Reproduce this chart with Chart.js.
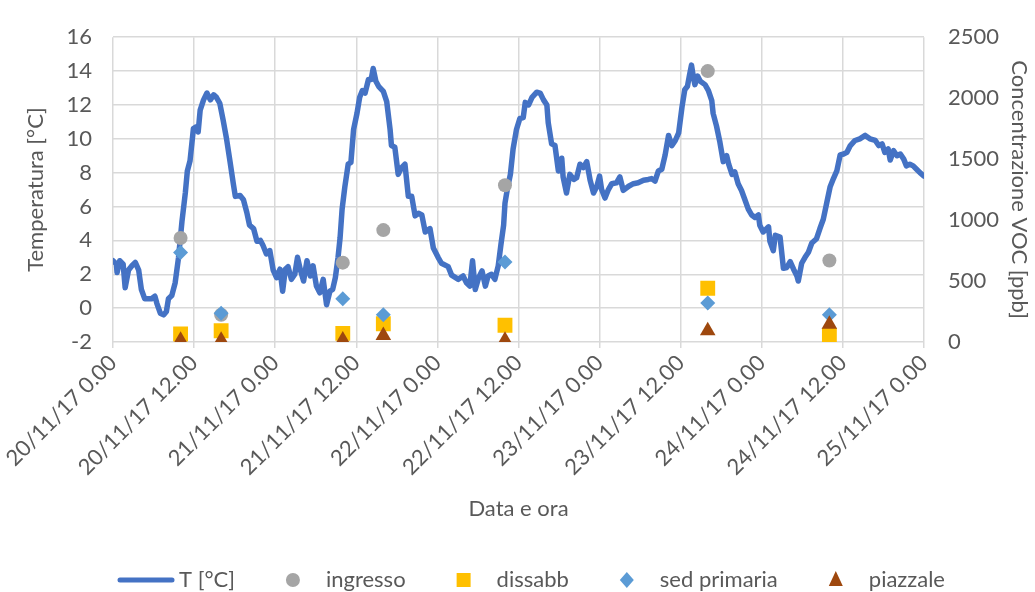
<!DOCTYPE html>
<html>
<head>
<meta charset="utf-8">
<script src="https://cdn.jsdelivr.net/npm/chart.js@4.4.1/dist/chart.umd.min.js"></script>
<style>
  html, body { margin: 0; padding: 0; background: #fff; }
  #wrap { width: 1035px; height: 592px; }
</style>
</head>
<body>
<div id="wrap"><canvas id="chart" width="1035" height="592"></canvas></div>
<script>
// x axis: hours from 20/11/17 0.00
const xTickLabels = ['20/11/17 0.00', '20/11/17 12.00', '21/11/17 0.00', '21/11/17 12.00',
  '22/11/17 0.00', '22/11/17 12.00', '23/11/17 0.00', '23/11/17 12.00',
  '24/11/17 0.00', '24/11/17 12.00', '25/11/17 0.00'];

// temperature trace
const tHours = [0, 0.5, 0.6, 1.0, 1.5, 1.8, 2.3, 2.8, 3.3, 3.8, 4.2, 4.7, 5.7, 6.2, 6.5, 7.0, 7.5, 7.9, 8.2, 8.7,
  9.2, 9.7, 10.2, 10.7, 11.0, 11.4, 11.9, 12.3, 12.6, 12.9, 13.4, 13.9, 14.4, 14.9, 15.3, 15.8, 16.3, 16.8, 17.3, 17.8,
  18.1, 18.8, 19.3, 19.8, 20.2, 20.8, 21.3, 21.8, 22.2, 22.7, 23.2, 23.7, 24.2, 24.7, 25.1, 25.5, 25.9, 26.4, 26.9, 27.3,
  27.7, 28.2, 28.7, 29.2, 29.6, 30.1, 30.6, 31.1, 31.6, 32.1, 32.5, 32.9, 33.3, 33.6, 33.9, 34.3, 34.8, 35.2, 35.6, 36.1,
  36.5, 36.9, 37.3, 37.8, 38.2, 38.5, 38.9, 39.3, 40.0, 40.5, 41.0, 41.2, 41.7, 42.2, 42.7, 43.2, 43.7, 44.2, 44.7, 45.2,
  45.7, 46.2, 46.9, 47.4, 48.1, 48.6, 49.6, 50.1, 51.1, 51.8, 52.3, 52.8, 53.2, 53.6, 54.1, 54.6, 55.1, 55.5, 56.0, 56.5,
  57.0, 57.4, 57.8, 58.0, 58.4, 58.8, 59.2, 59.7, 60.2, 60.7, 61.0, 61.5, 62.0, 62.7, 63.2, 63.7, 64.2, 64.4, 64.9, 65.4,
  65.9, 66.4, 66.6, 67.1, 67.6, 68.2, 68.6, 69.1, 69.6, 70.1, 70.6, 71.1, 71.6, 72.0, 72.3, 72.8, 73.3, 73.8, 74.5, 75.0,
  75.5, 76.3, 77.0, 77.7, 78.5, 79.2, 79.7, 80.2, 80.7, 81.2, 81.7, 82.2, 82.7, 83.2, 83.7, 84.2, 84.6, 85.0, 85.3, 85.6,
  85.9, 86.1, 86.5, 86.9, 87.6, 88.1, 88.6, 88.8, 89.3, 89.8, 90.3, 90.8, 91.1, 91.6, 92.0, 92.5, 93.0, 93.5, 94.0, 94.5,
  95.0, 95.5, 95.7, 96.2, 97.0, 97.2, 97.7, 98.0, 98.7, 99.2, 99.7, 100.2, 100.7, 101.2, 101.4, 101.9, 102.4, 102.9, 103.4, 104.1,
  104.6, 105.1, 105.6, 106.1, 106.6, 107.1, 107.6, 108.1, 108.6, 109.1, 109.8, 110.5, 111.3, 112.0, 112.8, 113.3, 113.8, 114.2, 114.7, 115.0,
  115.5, 116.0, 116.5, 117.0, 117.4, 117.9, 118.4, 118.9, 119.4, 120.0];
const tempC = [2.8, 2.6, 2.1, 2.8, 2.6, 1.2, 2.25, 2.5, 2.7, 2.25, 1.1, 0.55, 0.55, 0.7, 0.27, -0.3, -0.4, -0.2, 0.55, 0.74,
  1.5, 3.0, 5.1, 6.8, 8.1, 8.7, 10.6, 10.7, 10.4, 11.7, 12.3, 12.7, 12.3, 12.6, 12.45, 12.1, 11.1, 10.0, 8.7, 7.35,
  6.6, 6.65, 6.4, 5.65, 4.9, 4.7, 3.95, 4.0, 3.7, 3.2, 3.4, 2.25, 1.8, 2.3, 1.0, 2.3, 2.45, 1.7, 2.0, 3.0,
  2.3, 1.6, 2.8, 1.9, 2.5, 1.3, 0.9, 1.7, 0.2, 1.0, 1.1, 1.8, 3.0, 4.15, 5.85, 7.15, 8.5, 8.6, 10.55, 11.5,
  12.45, 12.85, 12.7, 13.5, 13.5, 14.15, 13.4, 13.1, 12.8, 12.2, 10.55, 9.6, 9.5, 7.9, 8.3, 8.5, 6.6, 6.6, 5.45, 5.6,
  5.5, 4.5, 4.7, 3.55, 3.0, 2.65, 2.45, 1.95, 1.7, 1.9, 1.5, 1.3, 2.8, 1.1, 1.8, 2.2, 1.3, 1.9, 2.0, 1.7,
  2.5, 3.75, 4.9, 6.2, 7.15, 7.9, 9.4, 10.55, 11.2, 11.25, 12.15, 12.0, 12.45, 12.75, 12.7, 12.3, 12.0, 10.95, 9.7, 9.6,
  8.1, 8.85, 7.75, 6.8, 7.9, 7.6, 7.7, 8.5, 8.3, 8.65, 7.55, 6.8, 7.2, 7.8, 7.0, 6.5, 7.0, 7.35, 7.4, 7.75,
  6.95, 7.2, 7.35, 7.4, 7.55, 7.6, 7.65, 7.5, 8.1, 8.2, 9.05, 10.2, 9.6, 9.9, 10.35, 11.9, 12.9, 13.1, 13.75, 14.35,
  13.6, 13.2, 13.7, 13.4, 13.2, 12.85, 12.25, 11.5, 10.75, 9.8, 8.65, 9.0, 8.5, 7.9, 8.05, 7.35, 6.95, 6.4, 5.85, 5.5,
  5.35, 5.5, 4.9, 4.5, 4.8, 3.95, 3.4, 4.3, 4.2, 2.35, 2.4, 2.75, 2.3, 1.9, 1.6, 2.65, 3.0, 3.3, 3.85, 4.1,
  4.7, 5.25, 6.2, 7.15, 7.65, 8.1, 9.05, 9.1, 9.2, 9.6, 9.9, 10.0, 10.2, 10.0, 9.9, 9.6, 9.7, 9.2, 9.4, 8.75,
  9.3, 9.0, 9.1, 8.8, 8.4, 8.5, 8.4, 8.2, 8.0, 7.8];

// VOC samples [ppb]
const sampleHours = [10, 16, 34, 40, 58, 88, 106];
const ingresso = [853, 224, 651, 918, 1286, 2222, 669];
const dissabb = [66, 92, 71, 150, 137, 441, 53];
const sedPrimaria = [735, 236, 354, 224, 656, 320, 224];
const piazzale = [15, 15, 17, 53, 15, 92, 145];

const textColor = '#595959';
const gridColor = '#d9d9d9';
const fontFamily = 'Lato, "Open Sans", sans-serif';
const fontSize = 22;

function pts(xs, ys) {
  return xs.map((x, i) => ({ x: x, y: ys[i] }));
}

function marker(label, ys, color, style, radius, order) {
  return {
    label: label,
    data: pts(sampleHours, ys),
    yAxisID: 'y2',
    showLine: false,
    pointStyle: style,
    pointRadius: radius,
    pointHoverRadius: radius,
    pointBackgroundColor: color,
    pointBorderColor: color,
    pointBorderWidth: 0,
    backgroundColor: color,
    borderColor: color,
    order: order
  };
}

// legend drawn like the Excel one: 58px symbol area, then text
const bottomLegend = {
  id: 'bottomLegend',
  afterDraw(chart) {
    const ctx = chart.ctx;
    ctx.save();
    ctx.font = fontSize + 'px ' + fontFamily;
    ctx.textBaseline = 'middle';
    ctx.fillStyle = textColor;
    const symW = 58, gap = 4, space = 29, y = 580;
    const items = chart.data.datasets.map(ds => ({ ds: ds, w: symW + gap + ctx.measureText(ds.label).width }));
    const total = items.reduce((s, it) => s + it.w, 0) + space * (items.length - 1);
    let x = 531 - total / 2;
    items.forEach(it => {
      const ds = it.ds;
      const cx = x + symW / 2;
      ctx.fillStyle = ds.borderColor;
      if (ds.showLine) {
        ctx.strokeStyle = ds.borderColor;
        ctx.lineWidth = 5;
        ctx.lineCap = 'round';
        ctx.beginPath();
        ctx.moveTo(x + 3, y);
        ctx.lineTo(x + symW - 3, y);
        ctx.stroke();
      } else {
        const r = 7;
        ctx.beginPath();
        if (ds.pointStyle === 'circle') {
          ctx.arc(cx, y, r, 0, Math.PI * 2);
        } else if (ds.pointStyle === 'rect') {
          ctx.rect(cx - 7, y - 7, 14, 14);
        } else if (ds.pointStyle === 'rectRot') {
          ctx.moveTo(cx, y - 8); ctx.lineTo(cx + 7, y); ctx.lineTo(cx, y + 8); ctx.lineTo(cx - 7, y);
          ctx.closePath();
        } else {
          ctx.moveTo(cx, y - 9); ctx.lineTo(cx + 7, y + 6); ctx.lineTo(cx - 7, y + 6);
          ctx.closePath();
        }
        ctx.fill();
      }
      ctx.fillStyle = textColor;
      ctx.textAlign = 'left';
      ctx.fillText(ds.label, x + symW + gap, y);
      x += it.w + space;
    });
    ctx.restore();
  }
};

const ctx = document.getElementById('chart').getContext('2d');
const chart = new Chart(ctx, {
  type: 'scatter',
  data: {
    datasets: [
      {
        label: 'T [°C]',
        data: pts(tHours, tempC),
        yAxisID: 'y',
        showLine: true,
        borderColor: '#4472C4',
        backgroundColor: '#4472C4',
        borderWidth: 5.5,
        borderJoinStyle: 'round',
        borderCapStyle: 'round',
        tension: 0,
        pointRadius: 0,
        pointHoverRadius: 0,
        order: 5
      },
      marker('ingresso', ingresso, '#A5A5A5', 'circle', 7, 4),
      marker('dissabb', dissabb, '#FFC000', 'rect', 10.5, 3),
      marker('sed primaria', sedPrimaria, '#5B9BD5', 'rectRot', 7.5, 2),
      marker('piazzale', piazzale, '#9E480E', 'triangle', 9, 1)
    ]
  },
  options: {
    responsive: false,
    animation: false,
    layout: { padding: { left: 0, right: 0, top: 24, bottom: 62 } },
    plugins: {
      legend: { display: false },
      tooltip: { enabled: false }
    },
    scales: {
      x: {
        type: 'linear',
        min: 0,
        max: 120,
        afterFit: s => { s.height = 188; },
        grid: { color: gridColor, lineWidth: 1.5, drawTicks: true, tickLength: 6, tickColor: gridColor },
        border: { display: false },
        ticks: {
          stepSize: 12,
          autoSkip: false,
          minRotation: 45,
          maxRotation: 45,
          padding: 2,
          color: textColor,
          font: { family: fontFamily, size: fontSize },
          callback: v => xTickLabels[Math.round(v / 12)]
        },
        title: {
          display: true,
          text: 'Data e ora',
          color: textColor,
          font: { family: fontFamily, size: fontSize },
          padding: { top: 0, bottom: 8 }
        }
      },
      y: {
        position: 'left',
        min: -2,
        max: 16,
        afterFit: s => { s.width = 113; },
        grid: { color: gridColor, lineWidth: 1.5, drawTicks: false },
        border: { display: false },
        ticks: {
          stepSize: 2,
          padding: 21,
          color: textColor,
          font: { family: fontFamily, size: fontSize },
          callback: v => String(v)
        },
        title: {
          display: true,
          text: 'Temperatura [°C]',
          color: textColor,
          font: { family: fontFamily, size: fontSize },
          padding: { top: 23, bottom: 0 }
        }
      },
      y2: {
        position: 'right',
        min: 0,
        max: 2500,
        afterFit: s => { s.width = 111; },
        grid: { display: false, drawTicks: false },
        border: { display: false },
        ticks: {
          stepSize: 500,
          padding: 24,
          color: textColor,
          font: { family: fontFamily, size: fontSize },
          callback: v => String(v)
        },
        title: {
          display: true,
          text: 'Concentrazione VOC [ppb]',
          color: textColor,
          font: { family: fontFamily, size: fontSize },
          padding: { top: 3, bottom: 0 }
        }
      }
    }
  },
  plugins: [bottomLegend]
});
</script>
</body>
</html>
